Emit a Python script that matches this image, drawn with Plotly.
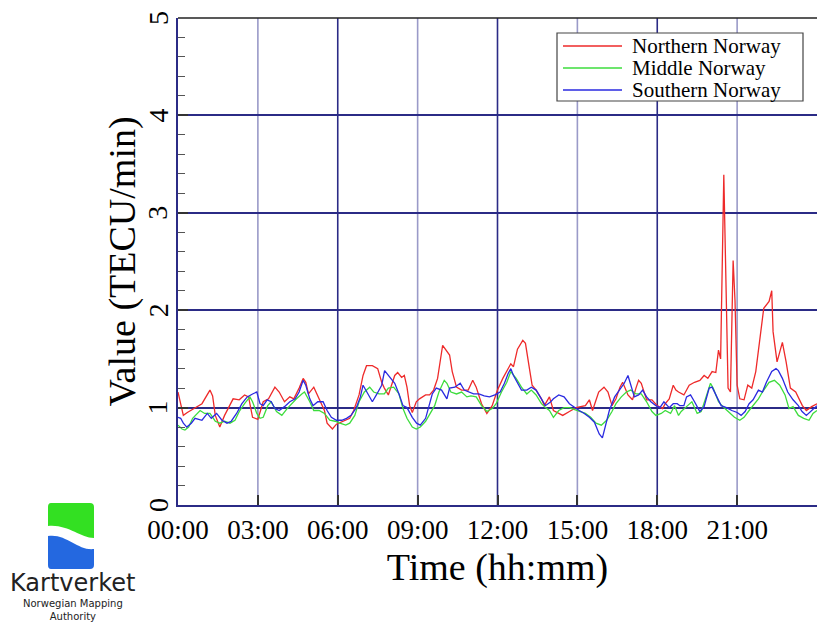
import plotly.graph_objects as go

# ---------------- data (hours since 00:00, TECU/min) ----------------
t_north = [0.0,0.2,0.35,0.64,0.9,1.2,1.3,1.4,1.57,1.75,2.07,2.3,2.5,2.65,2.8,3.0,3.2,3.4,3.64,3.8,4.0,4.2,4.35,4.55,4.7,4.8,4.9,5.1,5.3,5.5,5.6,5.8,5.95,6.1,6.45,6.6,6.8,6.95,7.08,7.3,7.5,7.65,7.75,7.9,8.14,8.25,8.4,8.5,8.6,8.7,8.8,8.95,9.07,9.3,9.45,9.6,9.75,9.94,10.05,10.2,10.3,10.46,10.65,10.9,11.07,11.2,11.4,11.6,11.8,12.0,12.2,12.5,12.6,12.75,12.95,13.05,13.2,13.3,13.45,13.65,13.76,13.95,14.1,14.45,14.7,14.95,15.3,15.45,15.57,15.7,15.8,16.0,16.15,16.3,16.45,16.6,16.7,16.9,17.07,17.2,17.3,17.4,17.6,17.8,18.0,18.2,18.3,18.45,18.6,18.7,18.8,19.0,19.2,19.4,19.6,19.76,19.9,20.06,20.2,20.3,20.38,20.5,20.66,20.75,20.85,20.92,21.0,21.1,21.26,21.4,21.55,21.7,21.86,22.0,22.2,22.3,22.35,22.5,22.7,22.84,23.0,23.2,23.45,23.6,23.8,24.0]
v_north = [1.16,0.92,0.95,1.0,1.04,1.18,1.12,0.92,0.80,0.92,1.09,1.08,1.13,1.11,0.9,0.88,1.06,1.09,1.21,1.16,1.06,1.11,1.09,1.2,1.3,1.26,1.14,1.21,1.09,0.97,0.84,0.78,0.83,0.85,0.89,0.97,1.13,1.33,1.43,1.43,1.4,1.26,1.2,1.13,1.33,1.36,1.31,1.33,1.21,1.02,0.95,1.06,1.09,1.13,1.13,1.18,1.3,1.64,1.6,1.54,1.37,1.21,1.18,1.18,1.28,1.21,1.04,0.94,1.02,1.18,1.3,1.45,1.42,1.6,1.69,1.66,1.4,1.23,1.18,1.09,1.02,1.11,0.97,0.92,0.96,1.0,1.02,1.08,0.97,1.08,1.16,1.21,1.16,1.02,1.09,1.21,1.26,1.13,1.08,1.2,1.28,1.25,1.08,1.08,1.02,0.99,1.04,1.09,1.23,1.18,1.16,1.13,1.23,1.26,1.28,1.33,1.3,1.37,1.36,1.59,1.5,3.39,1.2,1.16,2.51,2.1,1.23,1.09,1.08,1.23,1.2,1.37,1.71,2.02,2.09,2.2,1.78,1.47,1.67,1.47,1.2,1.16,1.02,0.97,1.01,1.04]

t_middle = [0.0,0.15,0.26,0.4,0.55,0.83,1.0,1.2,1.4,1.57,1.75,1.95,2.14,2.3,2.5,2.7,2.8,2.96,3.08,3.2,3.37,3.5,3.7,3.9,4.1,4.27,4.45,4.65,4.75,4.95,5.1,5.3,5.5,5.7,5.9,6.08,6.3,6.45,6.64,6.8,7.0,7.2,7.35,7.55,7.75,7.9,8.1,8.3,8.45,8.6,8.8,8.95,9.1,9.3,9.45,9.64,9.8,10.0,10.1,10.25,10.46,10.65,10.85,11.0,11.2,11.4,11.6,11.8,11.95,12.15,12.35,12.5,12.7,12.9,13.1,13.27,13.45,13.65,13.8,13.95,14.1,14.3,14.5,14.7,14.9,15.1,15.3,15.5,15.7,15.9,16.1,16.3,16.45,16.65,16.84,17.0,17.2,17.4,17.6,17.8,17.95,18.15,18.3,18.5,18.65,18.8,18.9,19.1,19.3,19.5,19.65,19.8,20.0,20.1,20.3,20.5,20.7,20.9,21.1,21.26,21.45,21.6,21.8,21.95,22.2,22.4,22.6,22.8,22.95,23.1,23.3,23.5,23.7,23.85,24.0]
v_middle = [0.82,0.78,0.77,0.80,0.89,0.97,0.94,0.94,0.86,0.84,0.86,0.84,0.87,0.96,1.04,1.11,1.06,0.94,0.89,0.90,1.02,1.06,0.96,0.92,0.99,1.04,1.09,1.14,1.16,1.06,0.97,0.97,0.94,0.87,0.86,0.84,0.82,0.84,0.92,1.06,1.16,1.21,1.16,1.14,1.14,1.20,1.21,1.14,0.99,0.89,0.80,0.78,0.80,0.86,0.93,1.02,1.16,1.28,1.25,1.16,1.14,1.16,1.11,1.12,1.11,1.02,0.96,0.99,1.04,1.16,1.26,1.37,1.30,1.21,1.14,1.18,1.13,1.04,1.0,0.97,0.90,0.97,1.0,1.0,0.98,0.96,0.94,0.90,0.84,0.82,0.87,0.96,1.04,1.11,1.16,1.18,1.14,1.14,1.06,0.96,0.92,0.94,0.97,0.94,1.02,0.92,0.96,1.01,1.06,0.94,0.96,1.08,1.25,1.2,1.06,1.0,0.95,0.90,0.87,0.90,0.97,1.02,1.09,1.16,1.26,1.28,1.23,1.13,0.99,1.01,0.92,0.89,0.87,0.94,0.97]

t_south = [0.0,0.1,0.2,0.33,0.5,0.64,0.9,1.1,1.25,1.45,1.65,1.84,2.0,2.2,2.4,2.6,2.8,2.96,3.08,3.2,3.35,3.5,3.64,3.8,4.0,4.2,4.4,4.55,4.7,4.8,4.95,5.07,5.25,5.45,5.6,5.76,5.95,6.15,6.33,6.5,6.7,6.85,6.95,7.15,7.3,7.45,7.65,7.76,7.9,8.14,8.3,8.45,8.6,8.8,8.96,9.1,9.3,9.4,9.55,9.7,9.9,10.1,10.2,10.4,10.6,10.75,10.95,11.1,11.3,11.5,11.7,11.9,12.1,12.26,12.4,12.5,12.6,12.75,12.9,13.1,13.27,13.45,13.65,13.8,14.0,14.1,14.3,14.5,14.7,14.9,15.07,15.26,15.45,15.64,15.82,15.94,16.05,16.2,16.4,16.57,16.76,16.9,17.0,17.14,17.3,17.45,17.6,17.76,17.95,18.1,18.25,18.45,18.6,18.75,18.85,19.0,19.1,19.25,19.4,19.6,19.76,19.95,20.06,20.2,20.4,20.6,20.8,21.0,21.15,21.3,21.45,21.6,21.8,21.95,22.1,22.3,22.46,22.55,22.7,22.9,23.1,23.3,23.44,23.6,23.8,24.0]
v_south = [0.90,0.89,0.84,0.80,0.84,0.89,0.87,0.94,0.89,0.94,0.87,0.84,0.86,0.94,1.04,1.11,1.14,1.16,1.04,1.02,1.08,1.06,0.99,0.97,1.01,1.06,1.09,1.16,1.28,1.23,1.09,1.02,1.06,1.06,0.97,0.90,0.87,0.87,0.89,0.92,1.0,1.11,1.23,1.13,1.06,1.13,1.23,1.38,1.33,1.25,1.14,1.02,1.0,0.90,0.84,0.82,0.89,1.0,1.14,1.2,1.18,1.09,1.2,1.21,1.25,1.18,1.16,1.14,1.14,1.12,1.11,1.13,1.16,1.25,1.35,1.4,1.33,1.26,1.18,1.18,1.21,1.18,1.08,1.02,1.06,1.09,1.13,1.11,1.04,1.0,0.97,0.94,0.90,0.85,0.73,0.69,0.82,0.97,1.11,1.18,1.25,1.33,1.23,1.11,1.13,1.18,1.11,1.06,1.02,1.0,1.06,1.0,1.04,1.04,1.02,1.02,1.11,1.13,1.06,0.96,1.01,1.2,1.21,1.13,1.02,1.0,0.97,0.95,0.92,0.96,1.04,1.08,1.18,1.16,1.26,1.37,1.40,1.38,1.3,1.16,1.08,1.02,0.96,0.92,0.97,1.02]

series_names = ["Northern Norway", "Middle Norway", "Southern Norway"]
series_colors = ["#ee2a2a", "#3ddc3d", "#2a2ae0"]

tick_hours = [0, 3, 6, 9, 12, 15, 18, 21]
tick_labels = ["00:00", "03:00", "06:00", "09:00", "12:00", "15:00", "18:00", "21:00"]
dark_grid_hours = [6, 12, 18]
y_ticks = [0, 1, 2, 3, 4, 5]

# ---------------- figure ----------------
W, H = 817, 623
L, R, T, B = 178, 0, 18, 118
pw, ph = W - L - R, H - T - B

def px(x):  # pixel x -> paper x
    return (x - L) / pw

def py(y):  # pixel y -> paper y
    return (H - B - y) / ph

serif = "Liberation Serif"
navy = "#2b2b86"
light = "#9a9ac8"

fig = go.Figure()
for t, v, n, c in zip([t_north, t_middle, t_south], [v_north, v_middle, v_south],
                      series_names, series_colors):
    fig.add_trace(go.Scatter(x=t, y=v, mode="lines", name=n,
                             line=dict(color=c, width=1.3), showlegend=False))

shapes = []
annotations = []

# vertical grid lines (alternating shades, like the reference)
for hr in tick_hours[1:]:
    col = navy if hr in dark_grid_hours else light
    shapes.append(dict(type="line", xref="x", yref="paper", x0=hr, x1=hr, y0=0, y1=1,
                       line=dict(color=col, width=1.6), layer="below"))
# top border
shapes.append(dict(type="line", xref="paper", yref="paper", x0=0, x1=1, y0=1, y1=1,
                   line=dict(color="#222222", width=1.6)))

# y tick labels, rotated like the reference
for yv in y_ticks:
    annotations.append(dict(text=str(yv), xref="paper", yref="y", x=px(158), y=yv,
                            xanchor="center", yanchor="middle", showarrow=False,
                            textangle=-90,
                            font=dict(family=serif, size=28, color="black")))

# legend box (drawn manually to match the compact reference legend)
lg_x0, lg_x1, lg_y0, lg_y1 = 557, 803, 33, 101
row_gap = 22
shapes.append(dict(type="rect", xref="paper", yref="paper",
                   x0=px(lg_x0), x1=px(lg_x1), y0=py(lg_y1), y1=py(lg_y0),
                   fillcolor="white", line=dict(color="#444444", width=1.2), layer="above"))
for i, c in enumerate(series_colors):
    yy = 46 + row_gap * i
    shapes.append(dict(type="line", xref="paper", yref="paper",
                       x0=px(563), x1=px(622), y0=py(yy), y1=py(yy),
                       line=dict(color=c, width=1.3), layer="above"))
legend_text = "<br>".join(f"<span style='font-size:21px'>{n}</span>" for n in series_names)
annotations.append(dict(text=legend_text, xref="paper", yref="paper", x=px(631),
                        y=py(46 + row_gap), xanchor="left", yanchor="middle", align="left",
                        showarrow=False, borderpad=0,
                        font=dict(family=serif, size=17, color="black")))

# logo (decoration)
def path_px(pts):
    s = ""
    for cmd, coords in pts:
        s += cmd
        s += " ".join(f"{px(a):.5f},{py(b):.5f}" for a, b in coords) + " "
    return s.strip()

green_path = path_px([("M", [(51, 503)]), ("L", [(90, 503)]), ("Q", [(94, 503), (94, 507)]),
                      ("L", [(94, 538)]), ("C", [(80, 538), (68, 524), (48, 526)]),
                      ("L", [(48, 507)]), ("Q", [(48, 503), (51, 503)]), ("Z", [])])
blue_path = path_px([("M", [(48, 536)]), ("C", [(66, 533), (78, 551), (94, 549)]),
                     ("L", [(94, 565)]), ("Q", [(94, 569), (90, 569)]), ("L", [(51, 569)]),
                     ("Q", [(48, 569), (48, 565)]), ("Z", [])])
shapes.append(dict(type="path", xref="paper", yref="paper", path=green_path,
                   fillcolor="#33e022", line=dict(width=0)))
shapes.append(dict(type="path", xref="paper", yref="paper", path=blue_path,
                   fillcolor="#2468e0", line=dict(width=0)))

annotations += [
    dict(text="Kartverket", xref="paper", yref="paper", x=px(72), y=py(598),
         xanchor="center", yanchor="bottom", showarrow=False, borderpad=0,
         font=dict(family="DejaVu Sans", size=24, color="#222222")),
    dict(text="Norwegian Mapping<br>Authority", xref="paper", yref="paper", x=px(73), y=py(623),
         xanchor="center", yanchor="bottom", showarrow=False, borderpad=0,
         font=dict(family="DejaVu Sans", size=10, color="#222222")),
]

fig.update_layout(
    width=W, height=H,
    margin=dict(l=L, r=R, t=T, b=B, pad=0),
    paper_bgcolor="white", plot_bgcolor="white",
    font=dict(family=serif, color="black"),
    showlegend=False,
    shapes=shapes,
    annotations=annotations,
    xaxis=dict(range=[0, 24], tickmode="array", tickvals=tick_hours, ticktext=tick_labels,
               showgrid=False,
               zeroline=False, showline=True, linecolor=navy, linewidth=2,
               ticks="inside", ticklen=10, tickwidth=2, tickcolor="#333333",
               tickfont=dict(family=serif, size=27, color="black"),
               title=dict(text="Time (hh:mm)", font=dict(family=serif, size=38, color="black"),
                          standoff=9),
               fixedrange=True),
    yaxis=dict(range=[0, 5], tickmode="array", tickvals=y_ticks,
               showgrid=True, gridcolor=navy, gridwidth=1.5,
               zeroline=False, showline=True, linecolor=navy, linewidth=2,
               ticks="inside", ticklen=10, tickwidth=2, tickcolor="#333333",
               showticklabels=False,
               minor=dict(dtick=0.2, ticks="inside", ticklen=7, tickcolor="#555555",
                          tickwidth=1.2, showgrid=False),
               title=dict(text="Value (TECU/min)", font=dict(family=serif, size=38, color="black"),
                          standoff=29),
               fixedrange=True),
)

fig.write_html("out.html")
